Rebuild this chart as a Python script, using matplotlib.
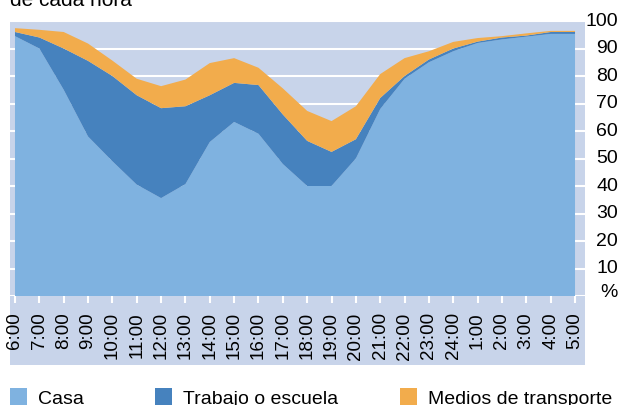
import matplotlib
matplotlib.use("Agg")
import matplotlib.pyplot as plt
from matplotlib.patches import Rectangle
from matplotlib.transforms import blended_transform_factory

plt.rcParams['font.family'] = ['Liberation Sans', 'DejaVu Sans']

# share of people (%) at each place, per hour of the day
hours = ['6:00', '7:00', '8:00', '9:00', '10:00', '11:00', '12:00', '13:00',
         '14:00', '15:00', '16:00', '17:00', '18:00', '19:00', '20:00',
         '21:00', '22:00', '23:00', '24:00', '1:00', '2:00', '3:00', '4:00',
         '5:00']
casa = [94.5, 90, 75, 58, 49, 40.5, 35.6, 40.7, 56, 63.3, 59, 48, 40, 40,
        50, 68, 79, 85, 89, 92, 93.3, 94.3, 95.3, 95.3]
trabajo = [1.5, 4, 15, 27.5, 31, 32.5, 32.7, 28.3, 17, 14.2, 17.7, 18, 16.4,
           12.4, 7, 4, 1, 1, 1, 0.5, 0.7, 0.4, 0.7, 0.7]
transporte = [1.4, 2.8, 6, 6.3, 5.6, 6, 8, 9.7, 11.7, 9, 6.3, 9.5, 10.9,
              11.2, 12, 8.7, 6.5, 3, 2.4, 1.3, 0.5, 0.8, 0.4, 0.4]
series_names = ['Casa', 'Trabajo o escuela', 'Medios de transporte']
ytick_vals = list(range(0, 101, 10))
ytick_labels = ['%'] + [str(v) for v in ytick_vals[1:]]

c_casa = '#7fb2e0'
c_trab = '#4682be'
c_trans = '#f2ac4c'
c_bg = '#c8d4ea'

W, H = 631, 406
fig = plt.figure(figsize=(W / 100, H / 100), dpi=100)

# background panel continues under the hour labels
fig.patches.append(Rectangle((10 / W, (H - 366) / H), 575 / W, 70 / H,
                             transform=fig.transFigure, facecolor=c_bg,
                             edgecolor='none', zorder=-5))

# axes: x 10..585 px, y 22..297 px (from top)
ax = fig.add_axes([10 / W, (H - 297) / H, 575 / W, 275 / H])
ax.set_facecolor(c_bg)

x = list(range(len(hours)))
polys = ax.stackplot(x, casa, trabajo, transporte,
                     colors=[c_casa, c_trab, c_trans], zorder=1)

ax.set_xlim(-0.205, 23.41)
ax.set_ylim(0, 100)

for v in ytick_vals:
    ax.axhline(v, color='white', lw=1.5, zorder=0.5)

for s in ax.spines.values():
    s.set_visible(False)

ax.set_xticks(x)
ax.set_xticklabels(hours, rotation=90, fontsize=13.5, va='top', ha='center')
ax.tick_params(axis='x', direction='out', length=5, width=1.5,
               color='white', pad=6)
ax.set_yticks([])

tr = blended_transform_factory(ax.transAxes, ax.transData)
for v, lab in zip(ytick_vals, ytick_labels):
    ax.text(1.0575, v + (1.5 if v == 0 else 0.3), lab, transform=tr,
            ha='right', va='center', fontsize=14, clip_on=False)

# cut-off title at the very top
fig.text(10 / W, 1 - 6 / H, 'de cada hora', fontsize=15, ha='left',
         va='baseline')

# legend row (cut at the bottom edge)
leg_x = [10, 155, 400]
for lx, name, col in zip(leg_x, series_names, [c_casa, c_trab, c_trans]):
    fig.patches.append(Rectangle((lx / W, 0), 17 / W, 17 / H,
                                 transform=fig.transFigure, facecolor=col,
                                 edgecolor='none'))
    fig.text((lx + 28) / W, 1.5 / H, name, fontsize=14, ha='left',
             va='baseline')

fig.savefig('out.png', dpi=100)
